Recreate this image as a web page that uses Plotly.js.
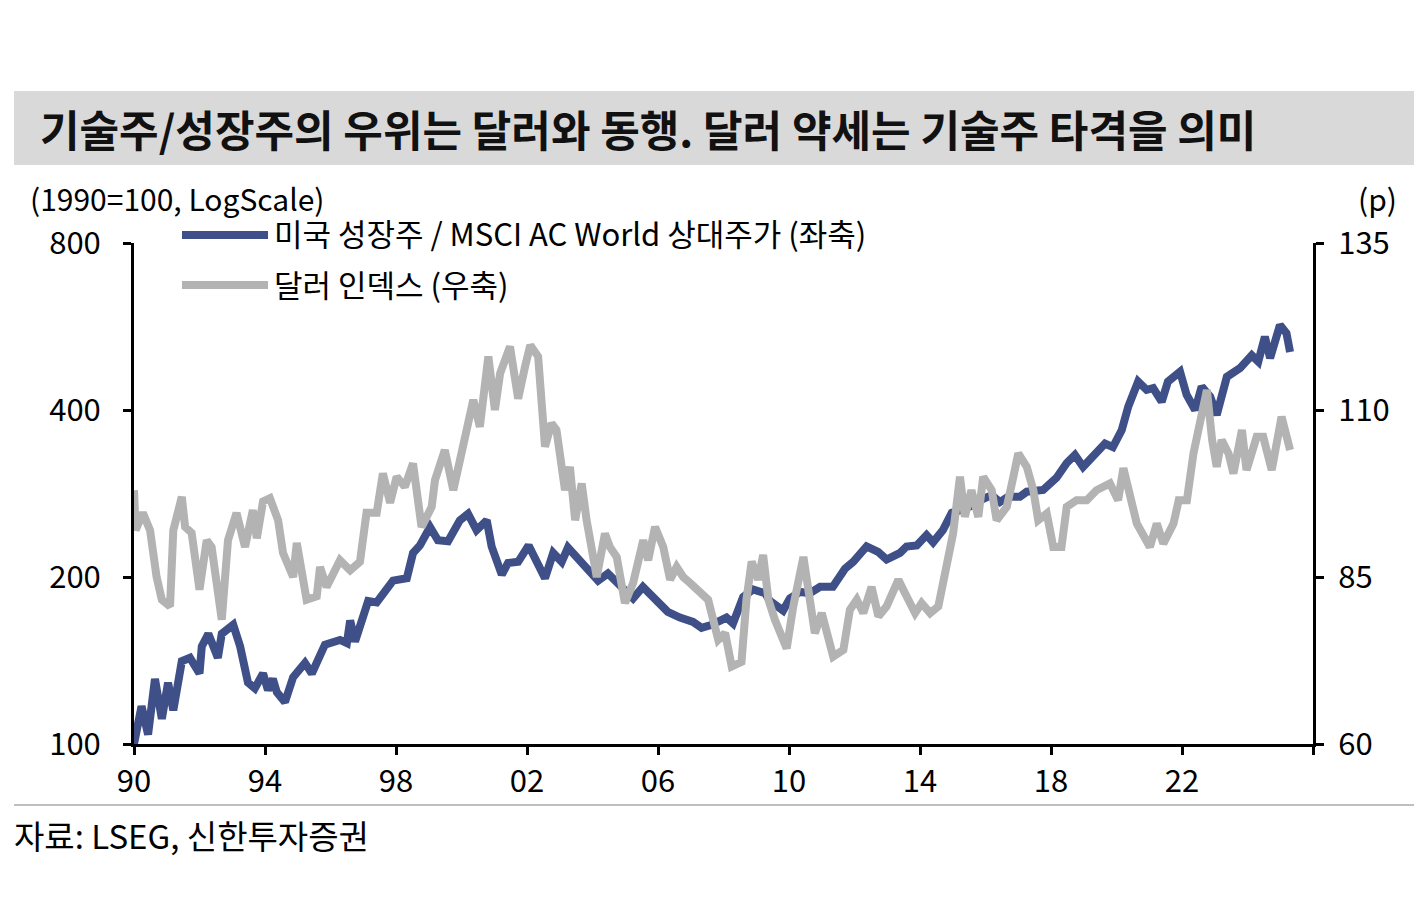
<!DOCTYPE html>
<html>
<head>
<meta charset="utf-8">
<script src="https://cdn.plot.ly/plotly-3.0.1.min.js"></script>
<style>
  html, body { margin: 0; padding: 0; background: #fff; }
  #chart { width: 1424px; height: 898px; }
</style>
</head>
<body>
<div id="chart"></div>
<script>
// US growth / MSCI AC World relative price (left axis, log, 1990=100)
const growthYears = [
  1990.00, 1990.23, 1990.43, 1990.64, 1990.85, 1991.04, 1991.20, 1991.46, 1991.71, 1992.00,
  1992.07, 1992.27, 1992.56, 1992.68, 1993.03, 1993.24, 1993.48, 1993.69, 1993.94, 1994.09,
  1994.24, 1994.36, 1994.61, 1994.86, 1995.22, 1995.43, 1995.83, 1996.29, 1996.50, 1996.60,
  1996.75, 1996.95, 1997.15, 1997.41, 1997.60, 1997.91, 1998.33, 1998.52, 1998.73, 1999.04,
  1999.28, 1999.59, 1999.95, 2000.20, 2000.46, 2000.77, 2000.92, 2001.23, 2001.42, 2001.73,
  2002.05, 2002.34, 2002.55, 2002.80, 2003.06, 2003.25, 2003.56, 2003.92, 2004.17, 2004.47,
  2004.84, 2005.24, 2005.54, 2005.85, 2006.30, 2006.67, 2007.07, 2007.33, 2007.64, 2008.09,
  2008.29, 2008.60, 2008.90, 2009.27, 2009.42, 2009.82, 2010.03, 2010.34, 2010.64, 2010.95,
  2011.34, 2011.71, 2011.96, 2012.37, 2012.72, 2012.98, 2013.39, 2013.59, 2013.90, 2014.20,
  2014.40, 2014.70, 2014.97, 2015.22, 2015.53, 2015.83, 2016.19, 2016.44, 2016.69, 2017.05,
  2017.26, 2017.76, 2018.17, 2018.48, 2018.73, 2018.98, 2019.28, 2019.65, 2019.89, 2020.16,
  2020.36, 2020.66, 2020.92, 2021.12, 2021.38, 2021.57, 2021.94, 2022.14, 2022.40, 2022.60,
  2022.86, 2023.06, 2023.37, 2023.77, 2024.13, 2024.33, 2024.53, 2024.69, 2024.99, 2025.19,
  2025.30
];
const growthValues = [
  100, 117, 104, 131, 111, 129, 115, 141, 143, 134,
  150, 158, 143, 158, 164, 150, 129, 126, 134, 125,
  131, 124, 119, 132, 140, 134, 151, 154, 152, 167,
  153, 169, 181, 180, 187, 197, 199, 221, 228, 246,
  233, 232, 253, 260, 243, 253, 227, 202, 212, 213,
  228, 209, 199, 221, 213, 226, 215, 204, 197, 203,
  192, 183, 192, 184, 173, 169, 166, 162, 164, 169,
  165, 184, 190, 187, 181, 174, 183, 188, 187, 192,
  192, 207, 213, 227, 222, 215, 221, 227, 228, 238,
  231, 243, 261, 264, 268, 275, 281, 273, 279, 279,
  285, 287, 302, 321, 332, 316, 329, 348, 343, 368,
  406, 450, 435, 438, 414, 450, 469, 426, 400, 441,
  423, 392, 459, 476, 502, 489, 542, 496, 569, 550,
  509
];

// Dollar index (right axis, p)
const dollarYears = [
  1990.00, 1990.05, 1990.27, 1990.49, 1990.69, 1990.85, 1991.10, 1991.20, 1991.46, 1991.56,
  1991.76, 1992.00, 1992.22, 1992.37, 1992.68, 1992.87, 1993.13, 1993.39, 1993.63, 1993.75,
  1993.94, 1994.15, 1994.40, 1994.55, 1994.86, 1994.97, 1995.27, 1995.58, 1995.68, 1995.88,
  1996.29, 1996.60, 1996.90, 1997.10, 1997.41, 1997.60, 1997.82, 1998.02, 1998.27, 1998.52,
  1998.78, 1999.09, 1999.19, 1999.49, 1999.75, 2000.05, 2000.36, 2000.56, 2000.82, 2001.02,
  2001.18, 2001.48, 2001.73, 2001.94, 2002.10, 2002.34, 2002.55, 2002.75, 2002.90, 2003.16,
  2003.31, 2003.47, 2003.67, 2003.82, 2004.13, 2004.38, 2004.53, 2004.74, 2004.99, 2005.24,
  2005.55, 2005.70, 2005.91, 2006.16, 2006.37, 2006.57, 2006.77, 2006.98, 2007.28, 2007.53,
  2007.84, 2008.05, 2008.25, 2008.55, 2008.70, 2008.86, 2009.06, 2009.21, 2009.37, 2009.57,
  2009.93, 2010.13, 2010.44, 2010.59, 2010.79, 2011.00, 2011.35, 2011.66, 2011.86, 2012.07,
  2012.27, 2012.52, 2012.73, 2012.98, 2013.34, 2013.54, 2013.85, 2014.05, 2014.31, 2014.56,
  2014.81, 2015.01, 2015.22, 2015.37, 2015.57, 2015.78, 2015.93, 2016.19, 2016.34, 2016.65,
  2016.85, 2017.00, 2017.26, 2017.46, 2017.61, 2017.87, 2018.07, 2018.32, 2018.48, 2018.78,
  2019.09, 2019.39, 2019.80, 2020.05, 2020.21, 2020.41, 2020.62, 2021.02, 2021.23, 2021.43,
  2021.74, 2021.90, 2022.15, 2022.35, 2022.56, 2022.76, 2022.92, 2023.06, 2023.21, 2023.42,
  2023.57, 2023.83, 2023.97, 2024.28, 2024.48, 2024.74, 2025.04, 2025.30
];
const dollarValues = [
  98.0, 92.0, 94.6, 92.0, 85.0, 81.6, 80.6, 92.0, 97.0, 92.5,
  91.6, 83.1, 90.5, 89.5, 78.6, 90.5, 94.6, 89.5, 95.0, 90.8,
  96.3, 96.8, 93.5, 88.6, 85.0, 90.1, 81.6, 82.1, 86.5, 83.5,
  87.5, 86.0, 87.3, 94.6, 94.6, 100.5, 96.1, 100.0, 98.5, 102.0,
  92.5, 95.5, 99.5, 104.0, 98.0, 104.5, 111.5, 107.5, 118.0, 110.0,
  115.5, 119.5, 111.7, 116.5, 119.7, 118.0, 104.5, 108.0, 107.0, 98.0,
  101.5, 93.5, 99.0, 93.5, 85.0, 91.5, 89.5, 88.0, 81.1, 84.1,
  90.5, 87.5, 92.5, 89.5, 84.6, 86.5, 85.0, 84.1, 82.6, 81.6,
  75.6, 76.6, 71.6, 72.3, 81.6, 87.3, 84.6, 88.3, 81.6, 78.6,
  74.3, 80.6, 88.0, 82.1, 76.6, 79.6, 73.1, 74.1, 80.1, 81.6,
  79.6, 83.5, 79.1, 80.6, 84.6, 82.6, 79.6, 81.1, 79.6, 80.6,
  86.5, 91.5, 100.0, 94.0, 98.0, 94.0, 100.0, 98.0, 93.5, 95.5,
  100.0, 103.5, 101.5, 98.0, 93.5, 94.5, 89.5, 89.5, 95.5, 96.5,
  96.5, 98.0, 99.0, 96.5, 101.3, 97.5, 93.0, 89.5, 93.0, 90.0,
  93.0, 96.5, 96.5, 103.5, 108.5, 113.0, 105.5, 101.5, 105.5, 103.5,
  100.5, 107.0, 101.0, 106.0, 106.0, 101.0, 109.0, 104.0
];

const xTickVals = [1990, 1994, 1998, 2002, 2006, 2010, 2014, 2018, 2022, 2026];
const xTickText = ['90', '94', '98', '02', '06', '10', '14', '18', '22', ''];
const leftTickVals = [100, 200, 400, 800];
const rightTickVals = [60, 85, 110, 135];

const titleText = '기술주/성장주의 우위는 달러와 동행. 달러 약세는 기술주 타격을 의미';
const growthName = '미국 성장주 / MSCI AC World 상대주가 (좌축)';
const dollarName = '달러 인덱스 (우축)';
const leftUnit = '(1990=100, LogScale)';
const rightUnit = '(p)';
const sourceText = '자료: LSEG, 신한투자증권';

const BLUE = '#3f4f87';
const GREY = '#b3b3b3';
const FONT = '"Noto Sans CJK KR", "Noto Sans", sans-serif';

// plot area in page pixels: x 134..1313, y 243..744
const PL = 134, PR = 1313, PT = 243, PB = 744;
const px = X => (X - PL) / (PR - PL);
const py = Y => (PB - Y) / (PB - PT);

const traces = [
  {
    type: 'scatter', mode: 'lines',
    x: growthYears, y: growthValues,
    name: growthName,
    line: { color: BLUE, width: 8 },
    yaxis: 'y', showlegend: false
  },
  {
    type: 'scatter', mode: 'lines',
    x: dollarYears, y: dollarValues,
    name: dollarName,
    line: { color: GREY, width: 8 },
    yaxis: 'y2', showlegend: false
  }
];

const axisCommon = {
  showline: true, linecolor: '#000', linewidth: 3,
  ticks: 'outside', ticklen: 8, tickwidth: 3, tickcolor: '#000',
  showgrid: false, zeroline: false, fixedrange: true,
  tickfont: { family: FONT, size: 31, color: '#000' }
};

const layout = {
  width: 1424, height: 898,
  margin: { l: PL, r: 1424 - PR, t: PT, b: 898 - PB },
  paper_bgcolor: '#fff', plot_bgcolor: '#fff',
  font: { family: FONT, color: '#000' },
  showlegend: false,
  xaxis: Object.assign({}, axisCommon, {
    range: [1990, 2026],
    tickmode: 'array', tickvals: xTickVals, ticktext: xTickText,
    ticklabelstandoff: 0
  }),
  yaxis: Object.assign({}, axisCommon, {
    type: 'log',
    range: [Math.log10(100), Math.log10(800)],
    tickmode: 'array', tickvals: leftTickVals, ticktext: leftTickVals.map(String),
    ticklabelstandoff: 16
  }),
  yaxis2: Object.assign({}, axisCommon, {
    overlaying: 'y', side: 'right',
    range: [60, 135],
    tickmode: 'array', tickvals: rightTickVals, ticktext: rightTickVals.map(String),
    ticklabelstandoff: 8
  }),
  shapes: [
    // title band
    { type: 'rect', xref: 'paper', yref: 'paper', layer: 'below',
      x0: px(14), x1: px(1414), y0: py(165), y1: py(91),
      fillcolor: '#d9d9d9', line: { width: 0 } },
    // footer rule
    { type: 'line', xref: 'paper', yref: 'paper',
      x0: px(14), x1: px(1414), y0: py(805), y1: py(805),
      line: { color: '#bfbfbf', width: 2 } },
    // legend swatches
    { type: 'line', xref: 'paper', yref: 'paper',
      x0: px(182), x1: px(268), y0: py(235), y1: py(235),
      line: { color: BLUE, width: 8 } },
    { type: 'line', xref: 'paper', yref: 'paper',
      x0: px(182), x1: px(268), y0: py(285), y1: py(285),
      line: { color: GREY, width: 8 } }
  ],
  annotations: [
    { text: '<b>' + titleText + '</b>', xref: 'paper', yref: 'paper',
      x: px(38), y: py(128), xanchor: 'left', yanchor: 'middle', showarrow: false,
      font: { family: FONT, size: 43, color: '#111' } },
    { text: leftUnit, xref: 'paper', yref: 'paper',
      x: px(28), y: py(198), xanchor: 'left', yanchor: 'middle', showarrow: false,
      font: { family: FONT, size: 30, color: '#000' } },
    { text: rightUnit, xref: 'paper', yref: 'paper',
      x: px(1399), y: py(198), xanchor: 'right', yanchor: 'middle', showarrow: false,
      font: { family: FONT, size: 30, color: '#000' } },
    { text: growthName, xref: 'paper', yref: 'paper',
      x: px(272), y: py(233), xanchor: 'left', yanchor: 'middle', showarrow: false,
      font: { family: FONT, size: 31, color: '#000' } },
    { text: dollarName, xref: 'paper', yref: 'paper',
      x: px(272), y: py(283), xanchor: 'left', yanchor: 'middle', showarrow: false,
      font: { family: FONT, size: 31, color: '#000' } },
    { text: sourceText, xref: 'paper', yref: 'paper',
      x: px(12), y: py(835), xanchor: 'left', yanchor: 'middle', showarrow: false,
      font: { family: FONT, size: 33, color: '#000' } }
  ]
};

Plotly.newPlot('chart', traces, layout, { displayModeBar: false, staticPlot: true });
</script>
</body>
</html>
